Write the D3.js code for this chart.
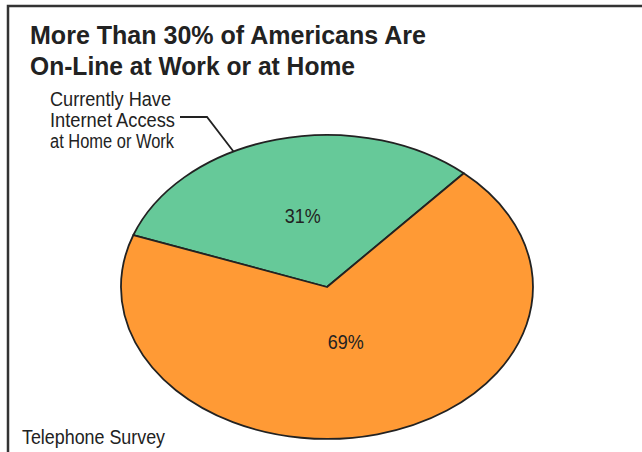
<!DOCTYPE html>
<html>
<head>
<meta charset="utf-8">
<script src="https://cdn.jsdelivr.net/npm/d3@7"></script>
<style>
  body { margin: 0; background: #fff; }
  svg { display: block; }
  text { font-family: "Liberation Sans", Arial, sans-serif; fill: #222; }
</style>
</head>
<body>
<div id="chart"></div>
<script>
// data
var categories = ["Currently Have Internet Access at Home or Work", "Other"];
var shares = [31, 69];
var sliceLabels = ["31%", "69%"];
var sliceColors = ["#66c999", "#ff9a35"];
var titleLines = ["More Than 30% of Americans Are", "On-Line at Work or at Home"];
var calloutLines = ["Currently Have", "Internet Access", "at Home or Work"];
var sourceNote = "Telephone Survey";

// line widths measured on the reference (condensed face is not installed)
var titleWidths = [396, 325];
var calloutWidths = [121, 125, 124];

var W = 642, H = 452;
var svg = d3.select("#chart").append("svg")
  .attr("width", W)
  .attr("height", H);

// frame (only top and left edges visible)
svg.append("path")
  .attr("d", "M8," + (H + 10) + "V6H" + (W + 10))
  .attr("fill", "none")
  .attr("stroke", "#333")
  .attr("stroke-width", 2.5);

// title
svg.append("text")
  .attr("x", 30)
  .attr("y", 44)
  .attr("font-size", 26)
  .attr("font-weight", "bold")
  .selectAll("tspan")
  .data(titleLines)
  .enter().append("tspan")
  .attr("x", 30)
  .attr("dy", (d, i) => i == 0 ? 0 : 31)
  .attr("textLength", (d, i) => titleWidths[i])
  .attr("lengthAdjust", "spacingAndGlyphs")
  .text(d => d);

// ellipse pie
var cx = 327, cy = 287, rx = 206, ry = 152;
var startDeg = -70;
var pie = d3.pie().sort(null)
  .startAngle(startDeg * Math.PI / 180)
  .endAngle((startDeg + 360) * Math.PI / 180);
var arcs = pie(shares);
var arc = d3.arc().innerRadius(0).outerRadius(1);

var g = svg.append("g")
  .attr("transform", "translate(" + cx + "," + cy + ") scale(" + rx + "," + ry + ")");

g.selectAll("path")
  .data(arcs)
  .enter().append("path")
  .attr("d", arc)
  .attr("fill", (d, i) => sliceColors[i])
  .attr("stroke", "#222")
  .attr("stroke-width", 1.8)
  .attr("stroke-linejoin", "round")
  .attr("vector-effect", "non-scaling-stroke");

// percentage labels
var labelR = [0.48, 0.37];
svg.selectAll(".pct")
  .data(arcs)
  .enter().append("text")
  .attr("class", "pct")
  .attr("text-anchor", "middle")
  .attr("font-size", 21)
  .attr("x", (d, i) => {
    var a = (d.startAngle + d.endAngle) / 2;
    return cx + Math.sin(a) * labelR[i] * rx;
  })
  .attr("y", (d, i) => {
    var a = (d.startAngle + d.endAngle) / 2;
    return cy - Math.cos(a) * labelR[i] * ry + 7;
  })
  .attr("textLength", 36)
  .attr("lengthAdjust", "spacingAndGlyphs")
  .text((d, i) => sliceLabels[i]);

// callout
svg.append("text")
  .attr("x", 50)
  .attr("y", 106)
  .attr("font-size", 20)
  .selectAll("tspan")
  .data(calloutLines)
  .enter().append("tspan")
  .attr("x", 50)
  .attr("dy", (d, i) => i == 0 ? 0 : 21)
  .attr("textLength", (d, i) => calloutWidths[i])
  .attr("lengthAdjust", "spacingAndGlyphs")
  .text(d => d);

// leader line from the label to the green slice edge
var edgeA = -27 * Math.PI / 180;
var ex = cx + Math.sin(edgeA) * rx, ey = cy - Math.cos(edgeA) * ry;
svg.append("path")
  .attr("d", "M180,117H207L" + ex + "," + ey)
  .attr("fill", "none")
  .attr("stroke", "#222")
  .attr("stroke-width", 1.8);

// source
svg.append("text")
  .attr("x", 22)
  .attr("y", 444)
  .attr("font-size", 20)
  .attr("textLength", 143)
  .attr("lengthAdjust", "spacingAndGlyphs")
  .text(sourceNote);
</script>
</body>
</html>
